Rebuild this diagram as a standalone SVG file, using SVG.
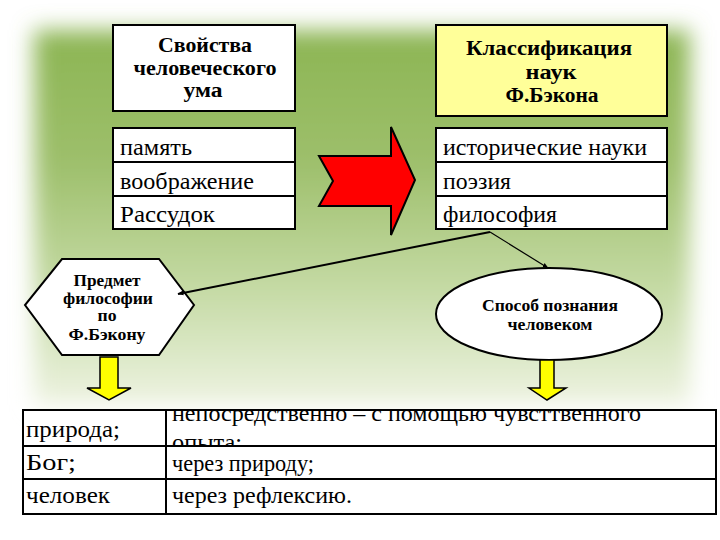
<svg xmlns="http://www.w3.org/2000/svg" width="720" height="540" viewBox="0 0 720 540">
<defs>
<linearGradient id="bg" x1="0" y1="0" x2="0" y2="1">
<stop offset="0" stop-color="#8cb553"/>
<stop offset="0.35" stop-color="#9dbf6b"/>
<stop offset="0.7" stop-color="#c6dba6"/>
<stop offset="1" stop-color="#eef3e2"/>
</linearGradient>
<filter id="blur" x="-10%" y="-10%" width="120%" height="120%"><feGaussianBlur stdDeviation="11"/></filter>
<marker id="ah" viewBox="0 0 10 10" refX="9" refY="5" markerWidth="6" markerHeight="6" orient="auto" markerUnits="userSpaceOnUse">
<path d="M0,1 L10,5 L0,9 z" fill="#000"/>
</marker>
<clipPath id="c1"><rect x="167" y="395" width="548" height="50"/></clipPath>
<style>
.box{fill:#fff;stroke:#000;stroke-width:2}
.yel{fill:#ffff99;stroke:#000;stroke-width:2}
.b{font-weight:bold}
.ya{fill:#ffff00;stroke:#000;stroke-width:1.5}
text{font-family:"Liberation Serif","Times New Roman",serif;fill:#000}
</style>
</defs>
<rect x="0" y="0" width="720" height="540" fill="#fff"/>
<rect x="34" y="30" width="656" height="375" fill="url(#bg)" filter="url(#blur)"/>

<g id="mind-title">
<rect class="box" x="113" y="25" width="182" height="86"/>
<text class="b" font-size="20" x="205" y="52" text-anchor="middle" textLength="94" lengthAdjust="spacingAndGlyphs">Свойства</text>
<text class="b" font-size="20" x="205" y="75" text-anchor="middle" textLength="143" lengthAdjust="spacingAndGlyphs">человеческого</text>
<text class="b" font-size="20" x="203" y="97" text-anchor="middle" textLength="39" lengthAdjust="spacingAndGlyphs">ума</text>
</g>

<g id="bacon-title">
<rect class="yel" x="436" y="25" width="231" height="91"/>
<text class="b" font-size="20" x="549" y="55" text-anchor="middle" textLength="166" lengthAdjust="spacingAndGlyphs">Классификация</text>
<text class="b" font-size="20" x="551" y="79" text-anchor="middle" textLength="51" lengthAdjust="spacingAndGlyphs">наук</text>
<text class="b" font-size="20" x="552" y="102" text-anchor="middle" textLength="93" lengthAdjust="spacingAndGlyphs">Ф.Бэкона</text>
</g>

<g id="mind-table">
<rect class="box" x="113" y="128" width="182" height="34"/>
<rect class="box" x="113" y="162" width="182" height="34"/>
<rect class="box" x="113" y="196" width="182" height="33"/>
<text font-size="24" x="120" y="155" textLength="72" lengthAdjust="spacingAndGlyphs">память</text>
<text font-size="24" x="120" y="189" textLength="134" lengthAdjust="spacingAndGlyphs">воображение</text>
<text font-size="24" x="120" y="222" textLength="95" lengthAdjust="spacingAndGlyphs">Рассудок</text>
</g>

<g id="sciences-table">
<rect class="box" x="436" y="128" width="231" height="34"/>
<rect class="box" x="436" y="162" width="231" height="34"/>
<rect class="box" x="436" y="196" width="231" height="33"/>
<text font-size="24" x="443" y="155" textLength="204" lengthAdjust="spacingAndGlyphs">исторические науки</text>
<text font-size="24" x="443" y="189" textLength="68" lengthAdjust="spacingAndGlyphs">поэзия</text>
<text font-size="24" x="443" y="222" textLength="114" lengthAdjust="spacingAndGlyphs">философия</text>
</g>

<g id="red-arrow">
<polygon points="319,156 391,156 391,127 415,180 391,235 391,206 319,206 333,181" fill="#ff0000" stroke="#000" stroke-width="2" stroke-linejoin="miter"/>
</g>

<g id="subject">
<polygon class="box" points="62,259 159,259 194,305 159,355 62,355 25,305"/>
<text class="b" font-size="16" x="107" y="286" text-anchor="middle" textLength="67" lengthAdjust="spacingAndGlyphs">Предмет</text>
<text class="b" font-size="16" x="108" y="304" text-anchor="middle" textLength="90" lengthAdjust="spacingAndGlyphs">философии</text>
<text class="b" font-size="16" x="107" y="321" text-anchor="middle" textLength="19" lengthAdjust="spacingAndGlyphs">по</text>
<text class="b" font-size="16" x="107" y="340" text-anchor="middle" textLength="77" lengthAdjust="spacingAndGlyphs">Ф.Бэкону</text>
</g>

<g id="method">
<ellipse class="box" cx="549" cy="314" rx="113" ry="46"/>
<text class="b" font-size="17" x="550" y="311" text-anchor="middle" textLength="136" lengthAdjust="spacingAndGlyphs">Способ познания</text>
<text class="b" font-size="17" x="550" y="330" text-anchor="middle" textLength="85" lengthAdjust="spacingAndGlyphs">человеком</text>
</g>

<g id="connectors">
<line x1="490" y1="232" x2="178" y2="294" stroke="#000" stroke-width="2" marker-end="url(#ah)"/>
<line x1="490" y1="232" x2="548" y2="268" stroke="#000" stroke-width="1.2" marker-end="url(#ah)"/>
<polygon class="ya" points="100,357 118,357 118,388 131,388 109,400 87,388 100,388"/>
<polygon class="ya" points="540,360 554,360 554,388 566,388 547,400 529,388 540,388"/>
</g>

<g id="bottom-table">
<rect x="23" y="410" width="693" height="104" fill="#fff"/>
<line x1="23" y1="446" x2="716" y2="446" stroke="#000" stroke-width="2"/>
<line x1="23" y1="479" x2="716" y2="479" stroke="#000" stroke-width="2"/>
<line x1="166" y1="410" x2="166" y2="514" stroke="#000" stroke-width="2"/>
<rect x="23" y="410" width="693" height="104" fill="none" stroke="#000" stroke-width="2"/>
<text font-size="24" x="26" y="437" textLength="94" lengthAdjust="spacingAndGlyphs">природа;</text>
<text font-size="24" x="26" y="470" textLength="50" lengthAdjust="spacingAndGlyphs">Бог;</text>
<text font-size="24" x="26" y="503" textLength="84" lengthAdjust="spacingAndGlyphs">человек</text>
<g clip-path="url(#c1)">
<text font-size="24" x="172" y="421" textLength="469" lengthAdjust="spacingAndGlyphs">непосредственно – с помощью чувсттвенного</text>
<text font-size="24" x="172" y="450" textLength="70" lengthAdjust="spacingAndGlyphs">опыта;</text>
</g>
<text font-size="24" x="172" y="471" textLength="142" lengthAdjust="spacingAndGlyphs">через природу;</text>
<text font-size="24" x="172" y="503" textLength="180" lengthAdjust="spacingAndGlyphs">через рефлексию.</text>
</g>
</svg>
